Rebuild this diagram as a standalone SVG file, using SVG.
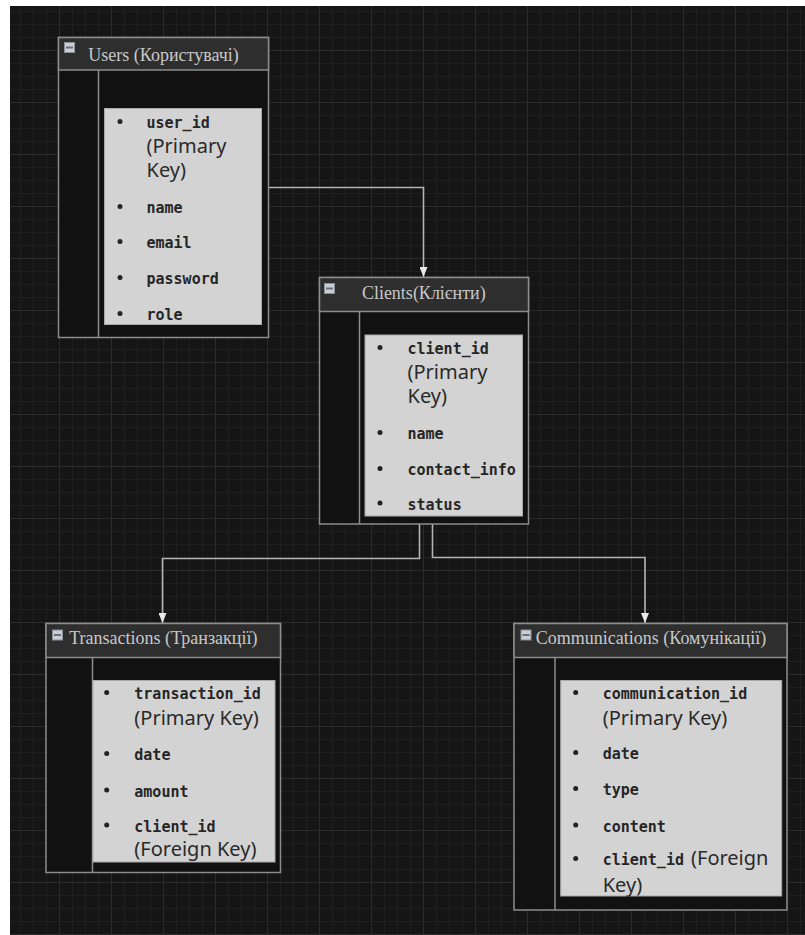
<svg xmlns="http://www.w3.org/2000/svg" width="805" height="935" viewBox="0 0 805 935">
<defs>
<pattern id="grid" patternUnits="userSpaceOnUse" x="7" y="-2" width="52" height="52">
<path d="M13.5 0V52M26.5 0V52M39.5 0V52M0 13.5H52M0 26.5H52M0 39.5H52" stroke="#1f1f1f" stroke-width="1" fill="none"/>
<path d="M0.5 0V52M0 0.5H52" stroke="#2b2b2b" stroke-width="1" fill="none"/>
</pattern>
<marker id="arr" viewBox="0 0 10 8" refX="10" refY="4" markerWidth="10" markerHeight="8" markerUnits="userSpaceOnUse" orient="auto">
<path d="M0 0L10 4L0 8Z" fill="#e8e8e8"/>
</marker>
<g id="icon">
<rect x="0.5" y="0.5" width="10" height="10" fill="#c9ced6" stroke="#8a8f98" stroke-width="1"/>
<rect x="2" y="4.5" width="7" height="2" fill="#6a6f78"/>
</g>
</defs>
<style>
.box{fill:#111111;stroke:#8c8c8c;stroke-width:1.5}
.hdr{fill:#2e2e2e;stroke:#8c8c8c;stroke-width:1.5}
.div{stroke:#8c8c8c;stroke-width:1.5}
.panel{fill:#d3d3d3;stroke:#a9a9a9;stroke-width:1}
.title{font-family:"Liberation Serif","Times New Roman",serif;font-size:18px;fill:#c8c8c8;text-anchor:middle}
.f{font-family:"DejaVu Sans Mono","Liberation Mono",monospace;font-size:15px;font-weight:bold;fill:#262626}
.s{font-family:"Noto Sans","Open Sans",sans-serif;font-size:20px;fill:#2a2a2a}
.b{fill:#222}
.conn{fill:none;stroke:#b4b4b4;stroke-width:1.6}
</style>
<rect width="805" height="935" fill="#ffffff"/>
<rect x="10" y="6" width="795" height="929" fill="#151515"/>
<rect x="10" y="6" width="795" height="929" fill="url(#grid)"/>

<g id="connectors">
<path class="conn" d="M268.5 187.5H423.5V277" marker-end="url(#arr)"/>
<path class="conn" d="M419.5 524V558.5H162.5V623" marker-end="url(#arr)"/>
<path class="conn" d="M432.5 524V557.5H645V623" marker-end="url(#arr)"/>
</g>

<g id="users">
<rect class="box" x="58.5" y="37.5" width="210" height="300"/>
<rect class="hdr" x="58.5" y="37.5" width="210" height="32.5"/>
<use href="#icon" x="64" y="42"/>
<text class="title" x="163.5" y="60.5">Users (Користувачі)</text>
<line class="div" x1="98.5" y1="70" x2="98.5" y2="337.5"/>
<rect class="panel" x="104.5" y="108.5" width="157" height="216"/>
<circle class="b" cx="120" cy="121.5" r="2.5"/><text class="f" x="146.5" y="128">user_id</text>
<text class="s" x="146.5" y="152.7">(Primary<tspan x="146.5" y="177.4">Key)</tspan></text>
<circle class="b" cx="120" cy="206.5" r="2.5"/><text class="f" x="146.5" y="213">name</text>
<circle class="b" cx="120" cy="241.5" r="2.5"/><text class="f" x="146.5" y="248">email</text>
<circle class="b" cx="120" cy="277.5" r="2.5"/><text class="f" x="146.5" y="284">password</text>
<circle class="b" cx="120" cy="313.5" r="2.5"/><text class="f" x="146.5" y="320">role</text>
</g>

<g id="clients">
<rect class="box" x="319.5" y="277.5" width="209" height="246.5"/>
<rect class="hdr" x="319.5" y="277.5" width="209" height="34"/>
<use href="#icon" x="324" y="283"/>
<text class="title" x="423.8" y="298.5">Clients(Клієнти)</text>
<line class="div" x1="359.5" y1="311.5" x2="359.5" y2="524"/>
<rect class="panel" x="365" y="335" width="157.5" height="181"/>
<circle class="b" cx="380" cy="347.5" r="2.5"/><text class="f" x="407.5" y="354">client_id</text>
<text class="s" x="407.5" y="378.5">(Primary<tspan x="407.5" y="403.2">Key)</tspan></text>
<circle class="b" cx="380" cy="432.5" r="2.5"/><text class="f" x="407.5" y="439">name</text>
<circle class="b" cx="380" cy="468.5" r="2.5"/><text class="f" x="407.5" y="475">contact_info</text>
<circle class="b" cx="380" cy="503" r="2.5"/><text class="f" x="407.5" y="509.5">status</text>
</g>

<g id="transactions">
<rect class="box" x="46" y="623.5" width="234.5" height="249"/>
<rect class="hdr" x="46" y="623.5" width="234.5" height="34"/>
<use href="#icon" x="52" y="629.5"/>
<text class="title" x="163.3" y="643.5">Transactions (Транзакції)</text>
<line class="div" x1="92.5" y1="657.5" x2="92.5" y2="872.5"/>
<rect class="panel" x="93" y="680.5" width="182" height="181.5"/>
<circle class="b" cx="106.7" cy="692.5" r="2.5"/><text class="f" x="134.3" y="699">transaction_id</text>
<text class="s" x="134.3" y="724.5">(Primary Key)</text>
<circle class="b" cx="106.7" cy="753.5" r="2.5"/><text class="f" x="134.3" y="760">date</text>
<circle class="b" cx="106.7" cy="790" r="2.5"/><text class="f" x="134.3" y="796.5">amount</text>
<circle class="b" cx="106.7" cy="825" r="2.5"/><text class="f" x="134.3" y="831.5">client_id</text>
<text class="s" x="134.3" y="856">(Foreign Key)</text>
</g>

<g id="communications">
<rect class="box" x="514" y="623.5" width="273" height="286.5"/>
<rect class="hdr" x="514" y="623.5" width="273" height="34"/>
<use href="#icon" x="520.5" y="629.5"/>
<text class="title" x="651" y="643.5">Communications (Комунікації)</text>
<line class="div" x1="555" y1="657.5" x2="555" y2="910"/>
<rect class="panel" x="560.7" y="680.5" width="221" height="215.5"/>
<circle class="b" cx="575.7" cy="692.5" r="2.5"/><text class="f" x="602.7" y="699">communication_id</text>
<text class="s" x="602.7" y="724.5">(Primary Key)</text>
<circle class="b" cx="575.7" cy="752.5" r="2.5"/><text class="f" x="602.7" y="759">date</text>
<circle class="b" cx="575.7" cy="788.5" r="2.5"/><text class="f" x="602.7" y="795">type</text>
<circle class="b" cx="575.7" cy="825" r="2.5"/><text class="f" x="602.7" y="831.5">content</text>
<circle class="b" cx="575.7" cy="858.5" r="2.5"/><text class="f" x="602.7" y="865">client_id</text><text class="s" x="691" y="865">(Foreign<tspan x="602.7" y="891.5">Key)</tspan></text>
</g>
</svg>
